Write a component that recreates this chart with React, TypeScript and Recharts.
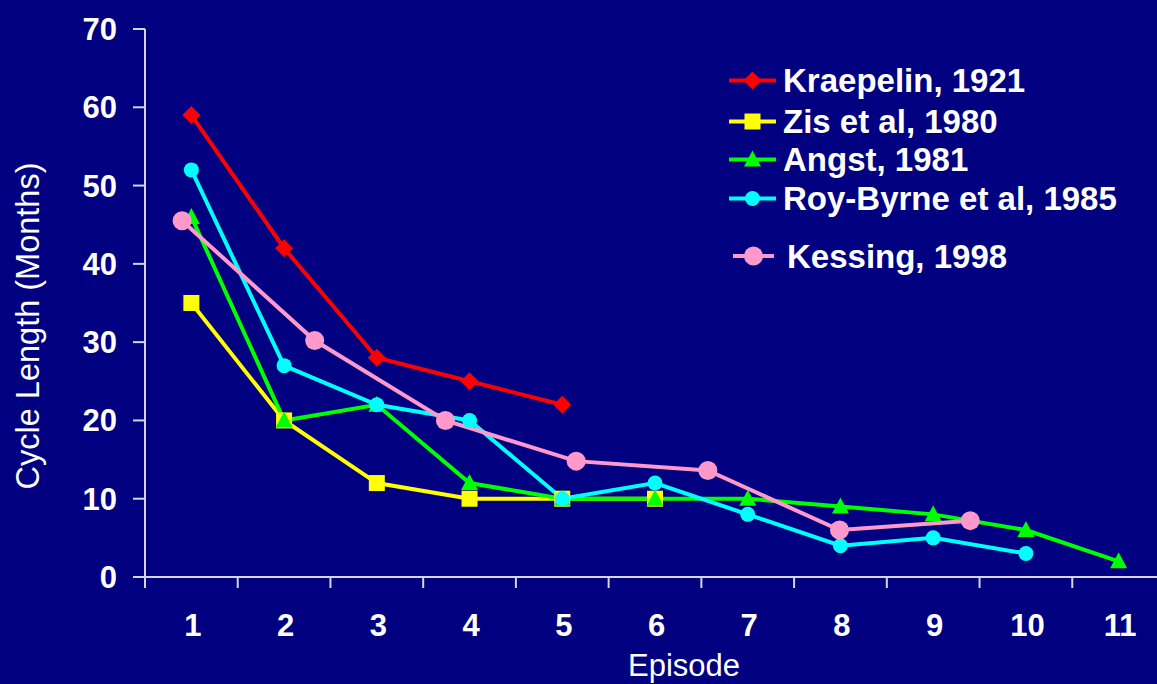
import React from "react";
import { LineChart, Line, XAxis, YAxis, Legend } from "recharts";

// Episode numbers on the x axis, cycle length ticks on the y axis
const episodes = [1, 2, 3, 4, 5, 6, 7, 8, 9, 10, 11];
const yTicks = [0, 10, 20, 30, 40, 50, 60, 70];

// Cycle length (months) per episode
const kraepelin = [59, 42, 28, 25, 22];
const zis = [35, 20, 12, 10, 10, 10];
const angst = [46, 20, 22, 12, 10, 10, 10, 9, 8, 6, 2];
const royByrne = [52, 27, 22, 20, 10, 12, 8, 4, 5, 3];
// Kessing was plotted on its own spacing in the original slide
const kessingX = [0.9, 2.33, 3.74, 5.15, 6.57, 7.99, 9.4];
const kessing = [45.5, 30.2, 20, 14.8, 13.6, 6, 7.2];

const BG = "#000080";
const AXIS = "#d4d4e4";
const FONT = '"Liberation Sans", Arial, sans-serif';

const toPoints = (vals: number[], xs?: number[]) =>
  vals.map((y, i) => ({ x: xs ? xs[i] : episodes[i], y }));

const series = [
  { name: "Kraepelin, 1921", color: "#ff0000", shape: "diamond", data: toPoints(kraepelin) },
  { name: "Zis et al, 1980", color: "#ffff00", shape: "square", data: toPoints(zis) },
  { name: "Angst, 1981", color: "#00ff00", shape: "triangle", data: toPoints(angst) },
  { name: "Roy-Byrne et al, 1985", color: "#00ffff", shape: "circle", data: toPoints(royByrne) },
  { name: "Kessing, 1998", color: "#ff99cc", shape: "bigCircle", data: toPoints(kessing, kessingX) },
];

function marker(shape: string, cx: number, cy: number, color: string, key?: string) {
  switch (shape) {
    case "diamond":
      return (
        <polygon key={key} points={`${cx},${cy - 9} ${cx + 9},${cy} ${cx},${cy + 9} ${cx - 9},${cy}`} fill={color} />
      );
    case "square":
      return <rect key={key} x={cx - 8} y={cy - 8} width={16} height={16} fill={color} />;
    case "triangle":
      return (
        <polygon key={key} points={`${cx},${cy - 9} ${cx + 8.5},${cy + 7} ${cx - 8.5},${cy + 7}`} fill={color} />
      );
    case "bigCircle":
      return <circle key={key} cx={cx} cy={cy} r={9.5} fill={color} />;
    default:
      return <circle key={key} cx={cx} cy={cy} r={7.5} fill={color} />;
  }
}

// x ticks: integers carry the label, half steps carry the tick mark
const xTicks = episodes.flatMap((e) => [e - 0.5, e]).concat([episodes.length + 0.5]);

const EpisodeTick = (props: any) => {
  const { x, y, payload } = props;
  const v = payload.value;
  if (!Number.isInteger(v)) {
    return <line x1={x} y1={y} x2={x} y2={y + 11} stroke={AXIS} strokeWidth={2} />;
  }
  return (
    <text x={x + 1.5} y={y + 59} textAnchor="middle" fill="#fff" fontSize={31} fontWeight="bold" fontFamily={FONT}>
      {v}
    </text>
  );
};

const legendRows = [80.5, 121.5, 159.5, 198.5, 256];

const renderLegend = () => (
  <svg width={1157} height={300} style={{ position: "absolute", left: 0, top: 0, overflow: "visible" }}>
    {series.map((s, i) => {
      const cy = legendRows[i];
      const last = i === series.length - 1;
      const x1 = last ? 733 : 729;
      const x2 = last ? 774 : 776;
      const tx = last ? 787 : 783;
      return (
        <g key={s.name}>
          <line x1={x1} y1={cy} x2={x2} y2={cy} stroke={s.color} strokeWidth={4} />
          {marker(s.shape, (x1 + x2) / 2, cy, s.color)}
          <text
            x={tx}
            y={cy}
            dominantBaseline="central"
            fill="#fff"
            fontSize={33}
            fontWeight="bold"
            fontFamily={FONT}
          >
            {s.name}
          </text>
        </g>
      );
    })}
  </svg>
);

export default function App() {
  return (
    <div
      style={{
        position: "absolute",
        left: 0,
        top: 0,
        width: 1157,
        height: 684,
        overflow: "hidden",
        background: BG,
      }}
    >
      <LineChart width={1180} height={684} margin={{ top: 29, right: 15, bottom: 0, left: 0 }}>
        <XAxis
          dataKey="x"
          type="number"
          domain={[0.5, 11.5]}
          ticks={xTicks}
          interval={0}
          allowDataOverflow
          height={107}
          tickSize={0}
          tickMargin={0}
          tickLine={false}
          stroke={AXIS}
          strokeWidth={2}
          tick={<EpisodeTick />}
          label={{
            content: (p: any) => {
              const vb = p.viewBox;
              return (
                <text
                  x={vb.x + vb.width / 2 + 29}
                  y={vb.y + 99}
                  textAnchor="middle"
                  fill="#fff"
                  fontSize={31}
                  fontFamily={FONT}
                >
                  Episode
                </text>
              );
            },
          }}
        />
        <YAxis
          type="number"
          domain={[0, 70]}
          ticks={yTicks}
          width={145}
          tickSize={12}
          tickMargin={16}
          stroke={AXIS}
          strokeWidth={2}
          tick={{ fill: "#fff", fontSize: 31, fontWeight: "bold", fontFamily: FONT }}
          label={{
            content: (p: any) => {
              const vb = p.viewBox;
              const cx = vb.x + 28;
              const cy = vb.y + vb.height / 2 + 23;
              return (
                <text
                  x={cx}
                  y={cy}
                  transform={`rotate(-90, ${cx}, ${cy})`}
                  textAnchor="middle"
                  dominantBaseline="central"
                  fill="#fff"
                  fontSize={32.5}
                  fontFamily={FONT}
                >
                  Cycle Length (Months)
                </text>
              );
            },
          }}
        />
        <Legend
          content={renderLegend}
          layout="vertical"
          align="center"
          verticalAlign="middle"
          wrapperStyle={{ left: 0, top: 0, width: 0, height: 0 }}
        />
        {series.map((s) => (
          <Line
            key={s.name}
            name={s.name}
            data={s.data}
            dataKey="y"
            type="linear"
            stroke={s.color}
            strokeWidth={4}
            isAnimationActive={false}
            activeDot={false}
            dot={(p: any) => marker(s.shape, p.cx, p.cy, s.color, `${s.name}-${p.index}`)}
          />
        ))}
      </LineChart>
    </div>
  );
}
